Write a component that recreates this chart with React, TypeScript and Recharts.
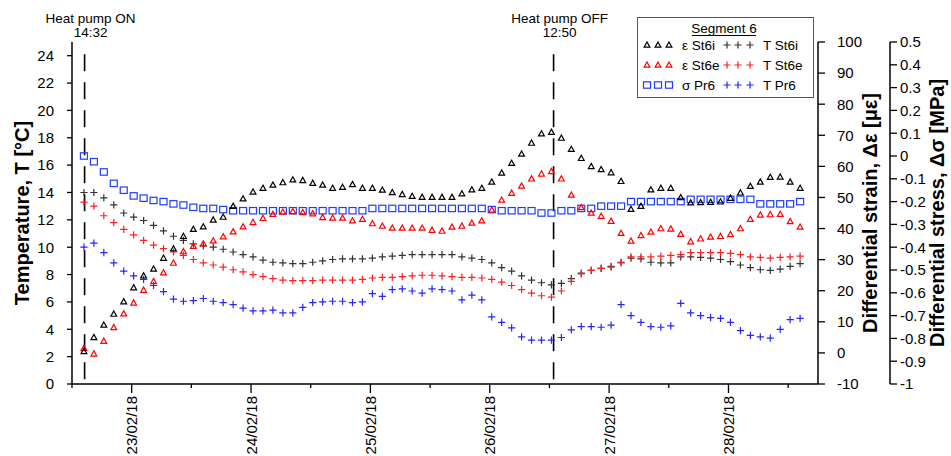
import React from "react";
import { ComposedChart, Line, XAxis, YAxis, ReferenceLine, Legend } from "recharts";

const FONT = '"Liberation Sans", Arial, Helvetica, sans-serif';

// one reading every 2 h, first one right after the heat pump went on (22/02 ~14:24)
const firstSample = 22.6;
const sampleStep = 1 / 12;

// differential strain [µε]
const epsSt6i = [
  0.5, 5.0, 9.0, 12.5, 16.5, 21.0, 24.8, 27.0, 30.5, 33.5,
  37.5, 39.8, 40.6, 42.8, 43.7, 47.2, 49.6, 51.8, 53.0, 54.0,
  54.8, 55.7, 55.5, 54.6, 54.0, 53.0, 53.3, 54.2, 53.0, 53.0,
  52.4, 51.6, 51.0, 50.4, 50.1, 50.1, 50.1, 50.1, 51.2, 52.5,
  53.0, 55.0, 57.9, 61.0, 64.0, 67.5, 70.5, 71.0, 69.1, 65.5,
  62.6, 60.0, 59.0, 58.0, 55.2, 46.2, 47.2, 52.5, 53.0, 53.0,
  50.0, 48.3, 48.4, 48.5, 48.6, 49.8, 51.5, 53.6, 55.0, 56.5,
  56.6, 55.0, 53.0,
];
const epsSt6e = [
  1.5, -0.3, 3.8, 8.2, 12.6, 16.1, 20.2, 23.0, 25.8, 28.9,
  32.6, 34.3, 35.1, 36.1, 37.4, 39.0, 40.6, 42.0, 43.3, 44.6,
  45.3, 45.5, 45.2, 44.8, 43.6, 43.4, 43.4, 42.5, 43.0, 41.6,
  40.8, 40.2, 40.2, 40.2, 40.2, 39.5, 39.2, 40.5, 40.8, 41.8,
  42.5, 46.0, 49.2, 51.4, 53.7, 56.0, 57.6, 58.4, 56.0, 50.8,
  46.8, 45.0, 44.0, 42.4, 38.5, 36.0, 37.8, 38.9, 40.0, 39.9,
  38.2, 35.8, 36.7, 37.3, 37.5, 38.1, 40.0, 43.0, 44.4, 44.5,
  44.6, 42.3, 40.5,
];
// differential stress [MPa]
const sigPr6 = [
  0.0, -0.025, -0.07, -0.12, -0.15, -0.175, -0.185, -0.195, -0.2, -0.21,
  -0.215, -0.225, -0.23, -0.23, -0.235, -0.24, -0.24, -0.24, -0.24, -0.24,
  -0.24, -0.24, -0.24, -0.24, -0.24, -0.24, -0.24, -0.24, -0.24, -0.23,
  -0.23, -0.23, -0.23, -0.23, -0.23, -0.23, -0.23, -0.23, -0.23, -0.23,
  -0.23, -0.235, -0.24, -0.24, -0.24, -0.24, -0.25, -0.25, -0.24, -0.24,
  -0.23, -0.23, -0.22, -0.22, -0.22, -0.2, -0.2, -0.2, -0.2, -0.2,
  -0.2, -0.19, -0.19, -0.19, -0.19, -0.19, -0.19, -0.19, -0.21, -0.21,
  -0.21, -0.21, -0.2,
];
// temperatures [°C]
const tSt6i = [
  14.0, 14.0, 13.6, 13.1, 12.5, 12.2, 11.95, 11.6, 11.2, 10.8,
  10.5, 10.25, 10.1, 10.0, 9.85, 9.65, 9.45, 9.3, 9.05, 8.9,
  8.85, 8.8, 8.8, 8.9, 9.0, 9.1, 9.15, 9.15, 9.15, 9.2,
  9.3, 9.35, 9.4, 9.45, 9.45, 9.45, 9.45, 9.45, 9.3, 9.2,
  9.1, 8.85, 8.5, 8.25, 7.9, 7.6, 7.4, 7.25, 7.35, 7.7,
  8.1, 8.3, 8.45, 8.6, 8.9, 9.2, 9.15, 8.9, 8.85, 8.85,
  9.3, 9.3, 9.25, 9.2, 9.1, 8.95, 8.7, 8.5, 8.35, 8.3,
  8.4, 8.6, 8.8,
];
const tSt6e = [
  13.3, 13.0, 12.3, 11.8, 11.3, 10.9, 10.5, 10.15, 9.9, 9.65,
  9.4, 9.1, 8.85, 8.7, 8.55, 8.35, 8.2, 8.0, 7.85, 7.7,
  7.6, 7.55, 7.55, 7.55, 7.6, 7.6, 7.6, 7.6, 7.65, 7.75,
  7.8, 7.8, 7.85, 7.9, 7.95, 7.95, 7.9, 7.85, 7.8, 7.8,
  7.75, 7.65, 7.45, 7.2, 6.9, 6.65, 6.45, 6.35, 6.8, 7.5,
  8.05, 8.3, 8.45, 8.55, 8.85, 9.3, 9.3, 9.3, 9.35, 9.4,
  9.45, 9.6, 9.6, 9.6, 9.6, 9.55, 9.45, 9.3, 9.25, 9.2,
  9.25, 9.3, 9.35,
];
const tPr6 = [
  10.0, 10.3, 9.6, 8.85, 8.25, 7.9, 7.65, 7.2, 6.75, 6.2,
  6.05, 6.1, 6.25, 6.05, 5.95, 5.8, 5.55, 5.35, 5.35, 5.4,
  5.2, 5.2, 5.6, 5.95, 6.0, 6.05, 6.05, 5.95, 6.0, 6.6,
  6.4, 6.9, 6.95, 6.8, 6.65, 6.95, 6.9, 6.8, 6.15, 6.5,
  6.15, 4.9, 4.5, 4.1, 3.45, 3.2, 3.2, 3.2, 3.4, 3.95,
  4.2, 4.2, 4.15, 4.3, 5.8, 5.0, 4.5, 4.2, 4.15, 4.25,
  5.9, 5.2, 5.0, 4.85, 4.8, 4.5, 3.9, 3.55, 3.45, 3.35,
  4.0, 4.7, 4.8,
];

const dayTicks = [22.5, 23, 23.5, 24, 24.5, 25, 25.5, 26, 26.5, 27, 27.5, 28, 28.5];
const tempTicks = [0, 2, 4, 6, 8, 10, 12, 14, 16, 18, 20, 22, 24];
const strainTicks = [-10, 0, 10, 20, 30, 40, 50, 60, 70, 80, 90, 100];
const stressTicks = [-1, -0.9, -0.8, -0.7, -0.6, -0.5, -0.4, -0.3, -0.2, -0.1, 0, 0.1, 0.2, 0.3, 0.4, 0.5];

const pumpOn = 22 + (14 + 32 / 60) / 24;
const pumpOff = 26 + (12 + 50 / 60) / 24;

const rows = epsSt6i.map((_, i) => ({
  t: firstSample + i * sampleStep,
  epsSt6i: epsSt6i[i],
  epsSt6e: epsSt6e[i],
  sigPr6: sigPr6[i],
  tSt6i: tSt6i[i],
  tSt6e: tSt6e[i],
  tPr6: tPr6[i],
}));

type Mark = "tri" | "square" | "cross";

const series: { key: string; name: string; axis: string; color: string; mark: Mark }[] = [
  { key: "tSt6i", name: "T St6i", axis: "temp", color: "#333333", mark: "cross" },
  { key: "tSt6e", name: "T St6e", axis: "temp", color: "#ff1f1f", mark: "cross" },
  { key: "tPr6", name: "T Pr6", axis: "temp", color: "#2424ff", mark: "cross" },
  { key: "sigPr6", name: "σ Pr6", axis: "stress", color: "#1f3dff", mark: "square" },
  { key: "epsSt6e", name: "ε St6e", axis: "strain", color: "#ff0000", mark: "tri" },
  { key: "epsSt6i", name: "ε St6i", axis: "strain", color: "#000000", mark: "tri" },
];

function marker(mark: Mark, color: string, cx: number, cy: number, key: string) {
  if (mark === "tri") {
    return (
      <path key={key} d={`M${cx} ${cy - 3}L${cx + 2.9} ${cy + 2.2}L${cx - 2.9} ${cy + 2.2}Z`}
        fill="none" stroke={color} strokeWidth={1.2} />
    );
  }
  if (mark === "square") {
    return <rect key={key} x={cx - 3.5} y={cy - 3.2} width={7} height={6.4} fill="none" stroke={color} strokeWidth={1.2} />;
  }
  return (
    <path key={key} d={`M${cx - 3.6} ${cy}H${cx + 3.6}M${cx} ${cy - 3.6}V${cy + 3.6}`} stroke={color} strokeWidth={1.2} />
  );
}

function dotFor(mark: Mark, color: string) {
  return (p: any) => {
    if (p.cx == null || p.cy == null) return <g key={`n${p.index}`} />;
    return marker(mark, color, p.cx, p.cy, `m${p.index}`);
  };
}

function DayTick(props: any) {
  const { x, y, payload } = props;
  const v = payload.value;
  const major = Math.abs(v - Math.round(v)) < 1e-6;
  return (
    <g transform={`translate(${x},${y})`}>
      <line x1={0} x2={0} y1={0} y2={major ? 9 : 4} stroke="#000" strokeWidth={1.3} />
      {major && (
        <text transform="rotate(-90)" x={-12} y={0} textAnchor="end" dominantBaseline="central"
          fontSize={15} fontFamily={FONT} fill="#000">
          {`${Math.round(v)}/02/18`}
        </text>
      )}
    </g>
  );
}

function axisTitle(text: string, dx: number) {
  return (p: any) => {
    const vb = p.viewBox;
    const cx = vb.x + dx;
    const cy = vb.y + vb.height / 2;
    return (
      <text x={cx} y={cy} transform={`rotate(-90 ${cx} ${cy})`} textAnchor="middle" dominantBaseline="central"
        fontSize={20} fontWeight="bold" fontFamily={FONT} fill="#000">
        {text}
      </text>
    );
  };
}

function pumpNote(line1: string, line2: string) {
  return (p: any) => {
    const x = p.viewBox.x + 6;
    return (
      <g fontFamily={FONT} fontSize={13.5} fill="#000">
        <text x={x} y={23} textAnchor="middle">{line1}</text>
        <text x={x} y={37} textAnchor="middle">{line2}</text>
      </g>
    );
  };
}

const byKey = (k: string) => series.find((s) => s.key === k)!;

function LegendBox() {
  const pairs = [
    ["epsSt6i", "tSt6i"],
    ["epsSt6e", "tSt6e"],
    ["sigPr6", "tPr6"],
  ];
  return (
    <svg width={177} height={81} style={{ display: "block" }}>
      <rect x={0.5} y={0.5} width={176} height={80} fill="#fff" stroke="#555" />
      <text x={87} y={16} textAnchor="middle" fontSize={13.5} fontFamily={FONT}>Segment 6</text>
      <line x1={55} x2={119} y1={18.5} y2={18.5} stroke="#000" strokeWidth={1} />
      {pairs.map(([a, b], r) => {
        const cy = 28 + r * 20;
        const sa = byKey(a);
        const sb = byKey(b);
        return (
          <g key={a}>
            {[10, 21, 32].map((x) => marker(sa.mark, sa.color, x, cy, `a${x}`))}
            <text x={45} y={cy + 5} fontSize={13.5} fontFamily={FONT}>{sa.name}</text>
            {[90, 101, 113].map((x) => marker(sb.mark, sb.color, x, cy, `b${x}`))}
            <text x={126} y={cy + 5} fontSize={13.5} fontFamily={FONT}>{sb.name}</text>
          </g>
        );
      })}
    </svg>
  );
}

const stressFmt = (v: number) => (Math.abs(v) < 1e-9 ? "0" : String(Number(v.toFixed(1))));
const axisLine = { stroke: "#000", strokeWidth: 1.5 };
const tickLine = { stroke: "#000", strokeWidth: 1.3 };
const tickStyle = { fill: "#000", fontSize: 15, fontFamily: FONT };

export default function App() {
  return (
    <div style={{ position: "absolute", left: 0, top: 0, width: 951, height: 456, background: "#fff" }}>
      <ComposedChart width={951} height={456} data={rows} margin={{ top: 42, right: 0, bottom: 0, left: 0 }}
        style={{ fontFamily: FONT }}>
        <XAxis dataKey="t" type="number" domain={[22.5, 28.75]} ticks={dayTicks} interval={0}
          allowDataOverflow height={72} tickLine={false} tickSize={0} tickMargin={0}
          axisLine={axisLine} tick={<DayTick />} />
        <YAxis yAxisId="temp" orientation="left" width={72} domain={[0, 25]} ticks={tempTicks} interval={0}
          allowDataOverflow tickSize={5} tickMargin={13} axisLine={axisLine} tickLine={tickLine} tick={tickStyle}
          label={{ content: axisTitle("Temperature, T [°C]", 22) }} />
        <YAxis yAxisId="strain" orientation="right" width={72} domain={[-10, 100]} ticks={strainTicks} interval={0}
          allowDataOverflow tickSize={7} tickMargin={12} axisLine={axisLine} tickLine={tickLine} tick={tickStyle}
          label={{ content: axisTitle("Differential strain, Δε [με]", 52) }} />
        <YAxis yAxisId="stress" orientation="right" width={61} domain={[-1, 0.5]} ticks={stressTicks} interval={0}
          allowDataOverflow tickSize={7} tickMargin={3} axisLine={axisLine} tickLine={tickLine} tick={tickStyle}
          tickFormatter={stressFmt}
          label={{ content: axisTitle("Differential stress, Δσ [MPa]", 47) }} />
        <ReferenceLine yAxisId="temp" segment={[{ x: pumpOn, y: 24.1 }, { x: pumpOn, y: 0 }]}
          stroke="#000" strokeWidth={1.6} strokeDasharray="17 11"
          label={{ content: pumpNote("Heat pump ON", "14:32") }} />
        <ReferenceLine yAxisId="temp" segment={[{ x: pumpOff, y: 24.1 }, { x: pumpOff, y: 0 }]}
          stroke="#000" strokeWidth={1.6} strokeDasharray="17 11"
          label={{ content: pumpNote("Heat pump OFF", "12:50") }} />
        {series.map((s) => (
          <Line key={s.key} yAxisId={s.axis} dataKey={s.key} name={s.name} stroke="none" strokeWidth={0}
            dot={dotFor(s.mark, s.color)} activeDot={false} isAnimationActive={false} />
        ))}
        <Legend layout="horizontal" verticalAlign="middle" align="center"
          wrapperStyle={{ left: 637, top: 17, width: 177, height: 81 }} content={() => <LegendBox />} />
      </ComposedChart>
    </div>
  );
}
